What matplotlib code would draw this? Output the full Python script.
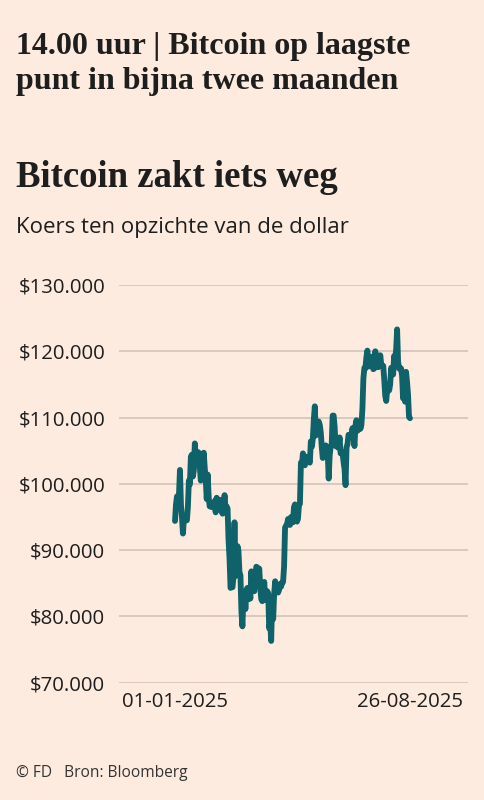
import numpy as np
import pandas as pd
import matplotlib
matplotlib.use('Agg')
import matplotlib.pyplot as plt
from matplotlib.ticker import FuncFormatter

# Bitcoin koers (x 1000 dollar), dagelijks, 01-01-2025 t/m 26-08-2025
jan = [94.4, 96.9, 98.1, 98.2, 98.3, 102.1, 96.9, 95.0, 92.5, 94.7, 94.5, 94.5, 94.5, 96.5, 100.5, 99.9,
       104.1, 104.4, 101.1, 102.0, 106.1, 103.7, 103.9, 104.8, 104.7, 102.6, 100.5, 101.3, 103.7, 104.7, 102.4]
feb = [100.6, 97.7, 101.4, 97.9, 96.6, 96.6, 96.5, 96.5, 96.5, 97.4, 95.7, 97.9, 96.6, 97.5, 97.6, 96.1,
       95.8, 95.5, 96.6, 98.3, 96.1, 96.6, 96.3, 91.5, 88.7, 84.3, 84.7, 84.4]
mar = [86.0, 94.2, 86.1, 87.2, 90.6, 89.9, 86.7, 86.2, 80.7, 78.5, 82.9, 83.7, 81.1, 84.0, 84.3, 82.6,
       84.0, 82.7, 86.8, 84.2, 84.0, 83.8, 86.1, 87.5, 87.4, 86.9, 87.2, 84.3, 82.6, 82.3, 82.5]
apr = [85.2, 82.5, 83.1, 83.8, 83.5, 78.2, 79.2, 76.3, 82.6, 79.6, 83.4, 85.3, 83.7, 84.5, 83.6, 84.0,
       84.9, 84.5, 85.1, 85.2, 87.5, 93.4, 93.7, 93.9, 94.7, 94.6, 93.8, 95.0, 94.3, 94.2]
may = [96.5, 96.9, 95.9, 94.3, 94.7, 96.8, 97.0, 103.2, 102.9, 104.6, 104.1, 102.8, 104.1, 103.5, 103.7,
       103.5, 103.2, 106.4, 105.6, 106.8, 109.7, 111.7, 107.3, 108.0, 108.9, 109.4, 108.9, 107.8, 105.6,
       103.9, 104.6]
jun = [105.7, 105.8, 105.4, 104.7, 100.8, 104.3, 105.6, 105.8, 110.3, 110.3, 108.6, 105.7, 106.1, 105.5,
       105.6, 107.0, 104.6, 104.9, 104.6, 103.3, 102.2, 99.8, 105.5, 106.0, 107.4, 107.1, 107.1, 107.3,
       108.4, 107.1]
jul = [105.7, 108.8, 109.6, 108.0, 108.2, 109.2, 108.3, 108.9, 111.3, 115.9, 117.5, 117.4, 119.1, 120.1,
       117.7, 118.6, 119.2, 117.9, 117.9, 117.3, 117.4, 120.0, 118.8, 118.4, 117.6, 117.9, 119.4, 118.0,
       117.9, 117.8, 115.8]
aug = [113.3, 112.5, 114.2, 115.0, 114.1, 115.0, 117.5, 116.7, 116.5, 119.3, 118.7, 120.2, 123.3, 118.4,
       117.4, 117.5, 117.4, 116.3, 112.9, 114.3, 112.4, 116.9, 115.4, 113.5, 110.1, 109.9]

koers = np.array(jan + feb + mar + apr + may + jun + jul + aug) * 1000
dates = pd.date_range('2025-01-01', periods=len(koers), freq='D')

yTicks = [70000, 80000, 90000, 100000, 110000, 120000, 130000]
xTickLabels = ['01-01-2025', '26-08-2025']

titleLines = ['14.00 uur | Bitcoin op laagste', 'punt in bijna twee maanden']
chartTitle = 'Bitcoin zakt iets weg'
subTitle = 'Koers ten opzichte van de dollar'
footer = '\u00a9 FD   Bron: Bloomberg'

bg = '#FDEBDF'
lineColor = '#10626A'
gridColor = '#D2C4B9'
textColor = '#1E1E1E'
sans = ['Open Sans', 'DejaVu Sans']
serif = ['Liberation Serif', 'DejaVu Serif']

fig = plt.figure(figsize=(4.85, 8), dpi=100, facecolor=bg)

# headline, two lines placed by baseline
for i, line in enumerate(titleLines):
    fig.text(16 / 485, 1 - (54 + 35 * i) / 800, line, family=serif, weight='bold', fontsize=23,
             color=textColor, va='baseline', ha='left')
fig.text(16 / 485, 1 - 187 / 800, chartTitle, family=serif, weight='bold', fontsize=26.5,
         color=textColor, va='baseline', ha='left')
fig.text(16 / 485, 1 - 233 / 800, subTitle, family=sans, fontsize=16,
         color=textColor, va='baseline', ha='left')
fig.text(16 / 485, 1 - 773 / 800, footer, family=sans, fontsize=11.2,
         color='#333333', va='center', ha='left')

ax = fig.add_axes([119 / 485, 1 - 682.7 / 800, (468 - 119) / 485, (682.7 - 285) / 800])
ax.set_facecolor(bg)

ax.plot(dates, koers, color=lineColor, linewidth=4.2, solid_joinstyle='round',
        solid_capstyle='round', zorder=3)

# x range: data from x=175 to x=410 px in the original
pxPerDay = (410 - 175) / (len(koers) - 1)
ax.set_xlim(dates[0] - pd.Timedelta(days=(175 - 119) / pxPerDay),
            dates[0] + pd.Timedelta(days=(468 - 175) / pxPerDay))
ax.set_ylim(70000, 130000)

ax.set_yticks(yTicks)
ax.yaxis.set_major_formatter(FuncFormatter(lambda v, p: '$' + f'{int(v):,}'.replace(',', '.')))
ax.set_xticks([dates[0], dates[-1]])
ax.set_xticklabels(xTickLabels)

ax.grid(axis='y', color=gridColor, linewidth=1.2, zorder=1)
ax.grid(axis='x', visible=False)
for s in ax.spines.values():
    s.set_visible(False)
ax.tick_params(axis='both', length=0, labelsize=14.7, colors=textColor)
ax.tick_params(axis='y', pad=10)
ax.tick_params(axis='x', pad=7)
for lbl in ax.get_xticklabels() + ax.get_yticklabels():
    lbl.set_family(sans)

fig.savefig('out.png', dpi=100, facecolor=bg)
